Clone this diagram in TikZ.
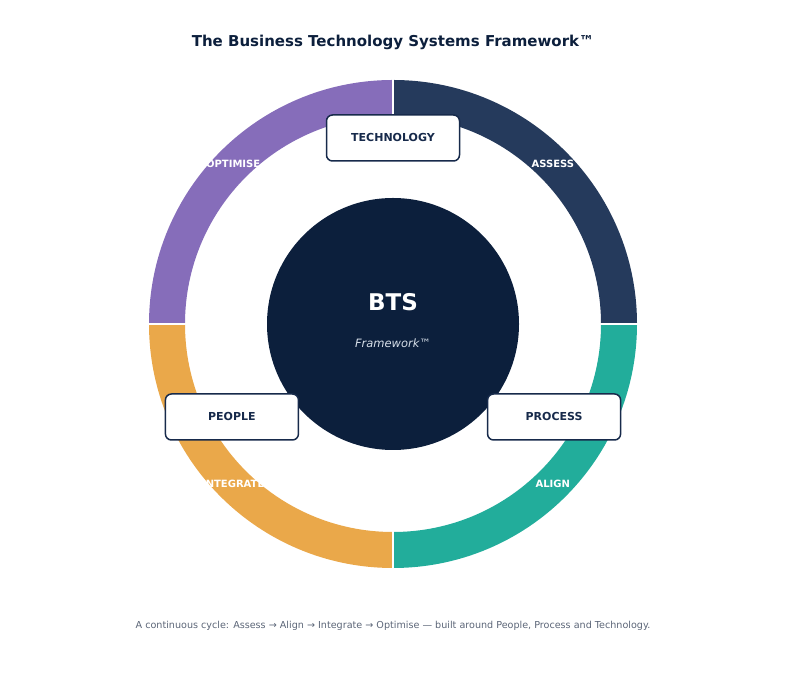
\documentclass[tikz,border=0pt]{standalone}
\usepackage{fontspec}
\setmainfont{DejaVu Sans}
\usepackage{xcolor}
\usepackage{tikz}
\usetikzlibrary{positioning, calc}
\definecolor{bts-navy}{HTML}{0C1F3C}
\definecolor{bts-slate}{HTML}{253A5C}
\definecolor{bts-teal}{HTML}{22AD9B}
\definecolor{bts-amber}{HTML}{EAA84A}
\definecolor{bts-violet}{HTML}{866DBA}
\definecolor{bts-edge}{HTML}{172A4B}
\definecolor{bts-gray}{HTML}{5B6577}
\definecolor{bts-mist}{HTML}{D6DEE8}

\begin{document}
\begin{tikzpicture}[
			x=1pt, y=1pt,
			pillar/.style={
				draw=bts-edge, fill=white, line width=1.5pt,
				rounded corners=6pt, minimum width=133pt,
				minimum height=46pt, inner sep=0pt,
				font=\fontsize{11}{13}\selectfont\bfseries\color{bts-edge}
			},
			phase/.style={
				inner sep=0pt,
				font=\fontsize{10}{12}\selectfont\bfseries\color{white}
			},
			hub/.style={
				circle, fill=bts-navy, minimum size=252pt, inner sep=0pt
			}
			]
			\useasboundingbox (0,0) rectangle (787,682);
			\node[font=\fontsize{15}{18}\selectfont\bfseries\color{bts-navy}] (title) at (393,640) {The Business Technology Systems Framework™};
			\coordinate (c) at (393,358);
			\begin{scope}[shift={(c)}]
				\foreach \a/\col in {0/bts-slate, 90/bts-violet, 180/bts-amber, 270/bts-teal}
				\fill[\col] (\a:244) arc[start angle=\a, end angle=\a+90, radius=244]
					-- (\a+90:208) arc[start angle=\a+90, end angle=\a, radius=208] -- cycle;
				\foreach \a in {0, 90, 180, 270}
				\draw[white, line width=2.5pt] (\a:205) -- (\a:247);
				\node[hub] (hub) at (0,0) {};
				\node[font=\fontsize{23}{26}\selectfont\bfseries\color{white}] (bts) at (0,22) {BTS};
				\node[font=\fontsize{11.5}{14}\selectfont\itshape\color{bts-mist}] (framework) at (0,-19) {Framework™};
				\node[phase] (assess) at (45:226) {ASSESS};
				\node[phase] (optimise) at (135:226) {OPTIMISE};
				\node[phase] (integrate) at (225:226) {INTEGRATE};
				\node[phase] (align) at (315:226) {ALIGN};
				\node[pillar] (technology) at (90:186) {TECHNOLOGY};
				\node[pillar] (people) at (210:186) {PEOPLE};
				\node[pillar] (process) at (330:186) {PROCESS};
			\end{scope}
			\node[font=\fontsize{9.6}{11}\selectfont\color{bts-gray}] (caption) at (393,56) {A continuous cycle: Assess → Align → Integrate → Optimise — built around People, Process and Technology.};
		\end{tikzpicture}
\end{document}
